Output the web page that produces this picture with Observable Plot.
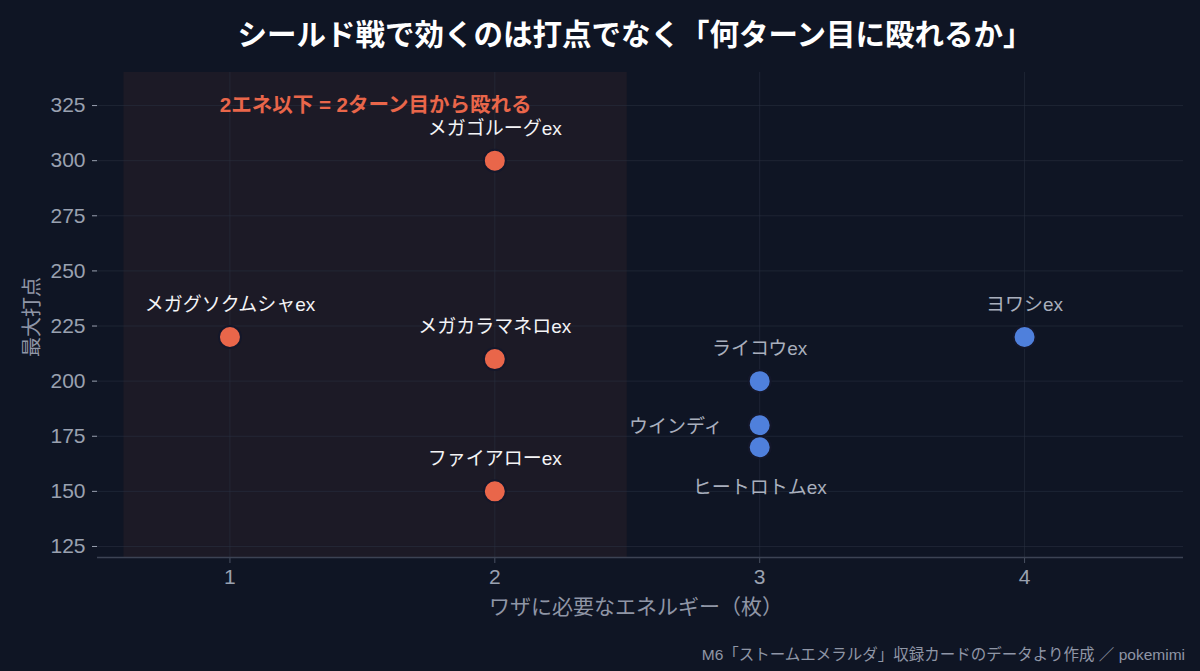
<!DOCTYPE html>
<html>
<head>
<meta charset="utf-8">
<script src="https://cdn.jsdelivr.net/npm/d3@7"></script>
<script src="https://cdn.jsdelivr.net/npm/@observablehq/plot@0.6"></script>
<style>
  html, body { margin:0; padding:0; background:#0f1524; }
  body { width:1200px; height:671px; position:relative; overflow:hidden; font-family:"Liberation Sans","Noto Sans CJK JP",sans-serif; }
  #title { position:absolute; left:0; width:1270px; top:12px; text-align:center; color:#ffffff; font-weight:700; font-size:29.5px; line-height:40px; font-family:"Noto Sans CJK JP",sans-serif; }
  #chart { position:absolute; left:0; top:60px; }
  #ylabel { position:absolute; left:30px; top:317px; transform:translate(-50%,-50%) rotate(-90deg); color:#8f96a6; font-size:20px; white-space:nowrap; }
  #xlabel { position:absolute; left:636px; top:605px; transform:translate(-50%,-50%); color:#8f96a6; font-size:21px; white-space:nowrap; }
  #caption { position:absolute; right:15px; top:645px; color:#8f96a6; font-size:15.5px; line-height:20px; white-space:nowrap; }
</style>
</head>
<body>
<div id="title">シールド戦で効くのは打点でなく「何ターン目に殴れるか」</div>
<div id="chart"></div>
<div id="ylabel">最大打点</div>
<div id="xlabel">ワザに必要なエネルギー（枚）</div>
<div id="caption">M6「ストームエメラルダ」収録カードのデータより作成 ／ pokemimi</div>
<script>
// ---- data ----
const names  = ["メガグソクムシャex","メガゴルーグex","メガカラマネロex","ファイアローex","ライコウex","ウインディ","ヒートロトムex","ヨワシex"];
const energy = [1, 2, 2, 2, 3, 3, 3, 4];
const damage = [220, 300, 210, 150, 200, 180, 170, 220];
const xTicks = [1, 2, 3, 4];
const yTicks = [125, 150, 175, 200, 225, 250, 275, 300, 325];
const zoneRange = [0.6, 2.5];
const zoneText = "2エネ以下 = 2ターン目から殴れる";
const zoneTextY = [325];
const labelsLeft = ["ウインディ"];
const labelsBelow = ["ヒートロトムex"];

const rows = names.map((n, i) => ({name: n, energy: energy[i], damage: damage[i], early: energy[i] <= 2}));
const above = rows.filter(d => !labelsLeft.includes(d.name) && !labelsBelow.includes(d.name));
const left = rows.filter(d => labelsLeft.includes(d.name));
const below = rows.filter(d => labelsBelow.includes(d.name));

const ORANGE = "#e9664a", BLUE = "#4f80dc";
const labelColor = d => d.early ? "#f4f4f6" : "#a9afbd";
const FONT = "'Liberation Sans', 'Noto Sans CJK JP', sans-serif";

const chart = Plot.plot({
  width: 1200, height: 580,
  marginTop: 12, marginBottom: 83, marginLeft: 97, marginRight: 17,
  style: {background: "transparent", fontFamily: FONT, color: "#9aa1b0", overflow: "visible"},
  x: {domain: [0.5, 4.6]},
  y: {domain: [120, 340]},
  marks: [
    Plot.rect([{x1: zoneRange[0], x2: zoneRange[1]}], {x1: "x1", x2: "x2", fill: "#1c1a26"}),
    Plot.gridX(xTicks, {stroke: "#2a3142", strokeOpacity: 0.55}),
    Plot.gridY(yTicks, {stroke: "#2a3142", strokeOpacity: 0.55}),
    Plot.axisX(xTicks, {tickSize: 6, tickPadding: 6, fontSize: 21, tickFormat: d3.format("d"), label: null, stroke: "#4a5162", color: "#9aa1b0"}),
    Plot.axisY(yTicks, {tickSize: 5, tickPadding: 7, fontSize: 21, tickFormat: d3.format("d"), label: null, stroke: "#9aa1b0", color: "#9aa1b0"}),
    Plot.ruleY([120], {stroke: "#3c4354", strokeWidth: 1.5}),
    Plot.text(zoneTextY, {x: () => (zoneRange[0] + zoneRange[1]) / 2, y: d => d, text: () => zoneText, fill: ORANGE, fontWeight: 700, fontSize: 20.5}),
    Plot.dot(rows, {x: "energy", y: "damage", r: 11, fill: d => d.early ? ORANGE : BLUE, stroke: "#14172a", strokeWidth: 2}),
    Plot.text(above, {x: "energy", y: "damage", text: "name", dy: -32, fontSize: 19, fill: labelColor}),
    Plot.text(left, {x: "energy", y: "damage", text: "name", dx: -37, dy: 2, textAnchor: "end", fontSize: 19, fill: labelColor}),
    Plot.text(below, {x: "energy", y: "damage", text: "name", dy: 41, fontSize: 19, fill: labelColor})
  ]
});
document.getElementById("chart").appendChild(chart);
</script>
</body>
</html>
